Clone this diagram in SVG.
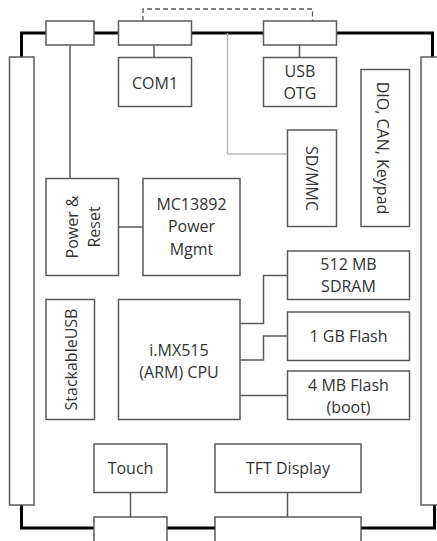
<svg xmlns="http://www.w3.org/2000/svg" width="437" height="541" viewBox="0 0 437 541">
<style>
.b{fill:#fff;stroke:#5a5a5a;stroke-width:1.5}
.t{font-family:"Open Sans","Noto Sans",sans-serif;font-size:16px;fill:#333;text-anchor:middle}
.c{fill:none;stroke:#5a5a5a;stroke-width:1.5}
.k{fill:none;stroke:#000;stroke-width:3}
</style>
<rect width="437" height="541" fill="#fff"/>
<g id="connectors">
<path class="k" d="M46 33H21.5V57M94 33H118M192 33H263M337 33H432.5V57M21.5 505V528H94M167 528H215M361 528H434.5V505"/>
<path fill="none" stroke="#5a5a5a" stroke-width="1.3" stroke-dasharray="5,3" d="M143 21V9H312.5V21"/>
<path fill="none" stroke="#b5b5b5" stroke-width="1.3" d="M227.5 33V154H287"/>
<path class="c" d="M70 45V178M154 45V57M299.5 45V57M118 227H143M287 275.5H263.5V323.5H240M240 360H263.5V336H287M240 395.5H287M130.5 492V517M287.5 492V517"/>
</g>
<g id="leftbar"><rect class="b" x="9.5" y="57" width="24.5" height="448"/></g>
<g id="rightbar"><rect class="b" x="421" y="57" width="30" height="448"/></g>
<g id="conn1"><rect class="b" x="46" y="21" width="48" height="24"/></g>
<g id="conn2"><rect class="b" x="118.5" y="21" width="73" height="24"/></g>
<g id="conn3"><rect class="b" x="263.5" y="21" width="73" height="24"/></g>
<g id="conn4"><rect class="b" x="94" y="517" width="73" height="30"/></g>
<g id="conn5"><rect class="b" x="215" y="517" width="146" height="30"/></g>
<g id="com1"><rect class="b" x="118.5" y="57.5" width="73" height="49"/><text class="t" x="155" y="88.5">COM1</text></g>
<g id="usbotg"><rect class="b" x="263.5" y="57.5" width="73" height="49"/><text class="t" x="300" y="77">USB</text><text class="t" x="300" y="99">OTG</text></g>
<g id="dio"><rect class="b" x="361" y="69.5" width="48.5" height="157"/><text class="t" transform="translate(377,148) rotate(90)">DIO, CAN, Keypad</text></g>
<g id="sdmmc"><rect class="b" x="287.5" y="130" width="49" height="96.5"/><text class="t" transform="translate(306,178.5) rotate(90)">SD/MMC</text></g>
<g id="power"><rect class="b" x="46" y="178.5" width="72.5" height="97"/><text class="t" transform="translate(78,227) rotate(-90)">Power &amp;</text><text class="t" transform="translate(100,227) rotate(-90)">Reset</text></g>
<g id="mc"><rect class="b" x="143" y="178.5" width="97" height="97"/><text class="t" x="191.5" y="209.5">MC13892</text><text class="t" x="191.5" y="232">Power</text><text class="t" x="191.5" y="254.5">Mgmt</text></g>
<g id="sdram"><rect class="b" x="287.5" y="251" width="122" height="48.5"/><text class="t" x="348.5" y="269.5">512 MB</text><text class="t" x="348.5" y="291.5">SDRAM</text></g>
<g id="stackable"><rect class="b" x="46" y="299.5" width="48.5" height="120"/><text class="t" transform="translate(76.5,359.5) rotate(-90)">StackableUSB</text></g>
<g id="cpu"><rect class="b" x="118.5" y="299.5" width="121.5" height="120"/><text class="t" x="179" y="355.5">i.MX515</text><text class="t" x="179" y="378">(ARM) CPU</text></g>
<g id="flash1"><rect class="b" x="287.5" y="312" width="122" height="48.5"/><text class="t" x="348.5" y="341.5">1 GB Flash</text></g>
<g id="flash4"><rect class="b" x="287.5" y="371" width="122" height="48.5"/><text class="t" x="348.5" y="390.5">4 MB Flash</text><text class="t" x="348.5" y="412.5">(boot)</text></g>
<g id="touch"><rect class="b" x="94" y="444" width="73" height="48.5"/><text class="t" x="130.5" y="474">Touch</text></g>
<g id="tft"><rect class="b" x="215" y="444" width="146" height="48.5"/><text class="t" x="288" y="474">TFT Display</text></g>
</svg>
